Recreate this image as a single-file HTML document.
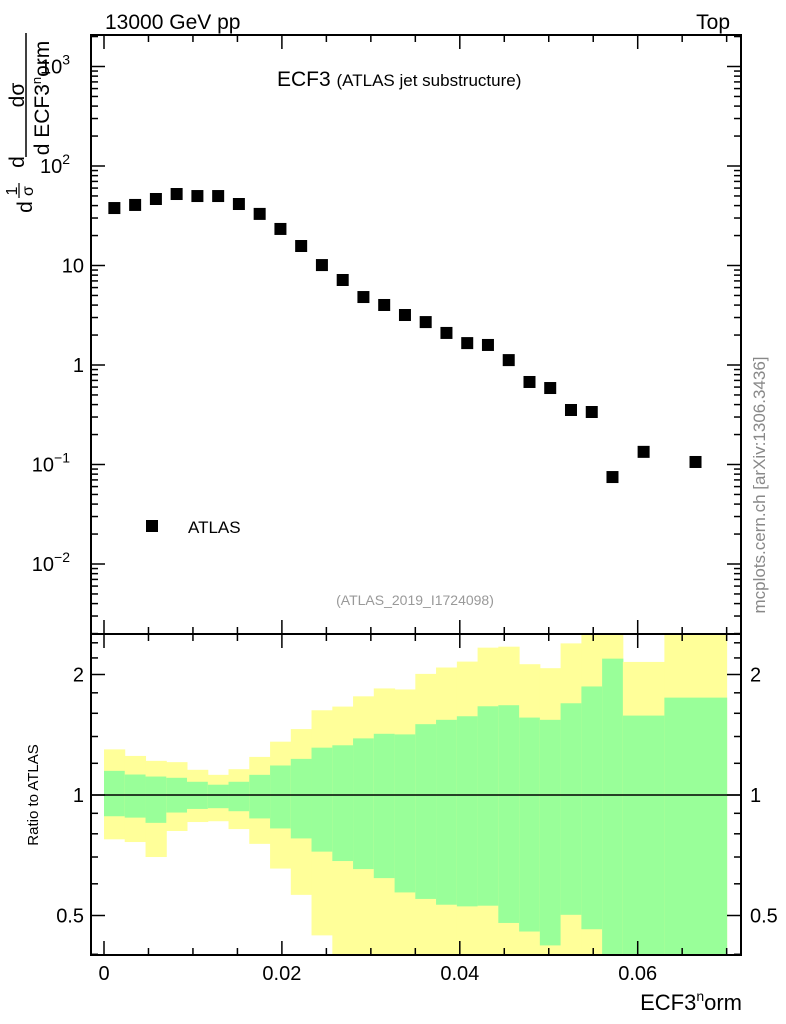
<!DOCTYPE html>
<html><head><meta charset="utf-8"><style>
body{margin:0;background:#fff;}
svg{display:block;font-family:"Liberation Sans",sans-serif;}
</style></head><body>
<svg id="c" width="786" height="1024" xmlns="http://www.w3.org/2000/svg"></svg>
<script>
// data
const binEdges=[0,0.00233,0.00467,0.007,0.00933,0.01167,0.014,0.01633,0.01867,0.021,0.02333,0.02567,0.028,0.03033,0.03267,0.035,0.03733,0.03967,0.042,0.04433,0.04667,0.049,0.05133,0.05367,0.056,0.05833,0.063,0.07];
const atlasValues=[37.8,40.6,46.6,52.3,49.9,49.9,41.5,33,23.3,15.7,10.1,7.15,4.82,4.01,3.18,2.7,2.1,1.66,1.59,1.12,0.675,0.587,0.353,0.337,0.0748,0.134,0.106];
const yellowUp=[1.30,1.252,1.217,1.208,1.156,1.123,1.16,1.245,1.359,1.461,1.628,1.663,1.764,1.846,1.835,2.007,2.082,2.154,2.334,2.347,2.122,2.074,2.392,3,3,2.15,3];
const greenUp=[1.149,1.125,1.112,1.104,1.079,1.061,1.079,1.123,1.185,1.231,1.313,1.331,1.385,1.422,1.417,1.503,1.541,1.573,1.666,1.676,1.561,1.541,1.695,1.867,2.191,1.579,1.751];
const greenLow=[0.885,0.878,0.852,0.904,0.923,0.927,0.911,0.874,0.825,0.779,0.722,0.684,0.653,0.620,0.571,0.550,0.532,0.527,0.529,0.479,0.456,0.421,0.502,0.462,0.3,0.3,0.3];
const yellowLow=[0.775,0.763,0.700,0.813,0.856,0.86,0.822,0.755,0.655,0.563,0.446,0.3,0.3,0.3,0.3,0.3,0.3,0.3,0.3,0.3,0.3,0.3,0.3,0.3,0.3,0.3,0.3];
const xTicks=[0,0.02,0.04,0.06];
const xTickLabels=["0","0.02","0.04","0.06"];

const NS="http://www.w3.org/2000/svg";
const svg=document.getElementById('c');
const L=91,R=741,T=35,MB=634,RB=955;
function X(v){return 104+v*8895;}
function Y(v){return 365-Math.log10(v)*99.5;}
function RY(r){const y=795-Math.log2(r)*120.5;return Math.max(MB,Math.min(RB,y));}
function el(tag,attrs,parent){const e=document.createElementNS(NS,tag);for(const k in attrs)e.setAttribute(k,attrs[k]);(parent||svg).appendChild(e);return e;}
function txt(s,attrs){const e=el('text',attrs);e.textContent=s;return e;}

// ratio bands
const bands=el('g',{});


for(let i=0;i<atlasValues.length;i++){
  const x0=X(binEdges[i]),x1=X(binEdges[i+1]);
  const yb=el('rect',{x:x0,y:RY(yellowUp[i]),width:x1-x0+0.5,height:RY(yellowLow[i])-RY(yellowUp[i]),fill:'#ffff99'},bands);
  
  
  const gb=el('rect',{x:x0,y:RY(greenUp[i]),width:x1-x0+0.5,height:RY(greenLow[i])-RY(greenUp[i]),fill:'#99ff99'},bands);
  
  
}
el('line',{x1:L,x2:R,y1:RY(1),y2:RY(1),stroke:'#000','stroke-width':1.5});

// markers
for(let i=0;i<atlasValues.length;i++){
  const c=(binEdges[i]+binEdges[i+1])/2;
  const m=el('rect',{x:X(c)-6,y:Y(atlasValues[i])-6,width:12,height:12,fill:'#000'});
  
  
}

// frames
el('rect',{x:L,y:T,width:R-L,height:MB-T,fill:'none',stroke:'#000','stroke-width':2});
el('rect',{x:L,y:MB,width:R-L,height:RB-MB,fill:'none',stroke:'#000','stroke-width':2});

// x ticks
for(let v=0;v<=0.0701;v+=0.005){
  const maj=Math.abs(v/0.02-Math.round(v/0.02))<1e-6;
  const len=maj?14:7, x=X(v);
  el('line',{x1:x,x2:x,y1:T,y2:T+len,stroke:'#000','stroke-width':1.5});
  el('line',{x1:x,x2:x,y1:MB,y2:MB-len,stroke:'#000','stroke-width':1.5});
  el('line',{x1:x,x2:x,y1:MB,y2:MB+len,stroke:'#000','stroke-width':1.5});
  el('line',{x1:x,x2:x,y1:RB,y2:RB-len,stroke:'#000','stroke-width':1.5});
}
xTicks.forEach((v,i)=>{const t=txt(xTickLabels[i],{x:X(v),y:980,'font-size':20,'text-anchor':'middle'});

});

// main y ticks
for(let d=-3;d<=3;d++){for(let k=1;k<=9;k++){const v=k*Math.pow(10,d);const y=Y(v);if(y<T||y>MB)continue;
 const len=k==1?14:7;
 el('line',{x1:L,x2:L+len,y1:y,y2:y,stroke:'#000','stroke-width':1.5});
 el('line',{x1:R,x2:R-len,y1:y,y2:y,stroke:'#000','stroke-width':1.5});}}
const ylab=[[1000,'10','3'],[100,'10','2'],[10,'10',''],[1,'1',''],[0.1,'10','−1'],[0.01,'10','−2']];
ylab.forEach(a=>{const t=el('text',{x:a[2]?70:84,y:Y(a[0])+7,'font-size':20,'text-anchor':'end'});t.textContent=a[1];
 
 
 if(a[2]){const s=el('tspan',{'font-size':14,dy:-9},t);s.textContent=a[2];}});

// ratio y ticks
[0.4,0.5,0.6,0.7,0.8,0.9,1,1.2,1.4,1.6,1.8,2,2.2,2.4].forEach(r=>{const y=RY(r);if(y<=MB||y>=RB)return;
 const maj=(r==0.5||r==1||r==2);const len=maj?14:7;
 el('line',{x1:L,x2:L+len,y1:y,y2:y,stroke:'#000','stroke-width':1.5});
 el('line',{x1:R,x2:R-len,y1:y,y2:y,stroke:'#000','stroke-width':1.5});});
[[0.5,'0.5'],[1,'1'],[2,'2']].forEach(a=>{
 const t1=txt(a[1],{x:84,y:RY(a[0])+7,'font-size':20,'text-anchor':'end'});
 
 
 const t2=txt(a[1],{x:750,y:RY(a[0])+7,'font-size':20});
 
 });
</script>
<svg width="786" height="1024" style="position:absolute;left:0;top:0;font-family:'Liberation Sans',sans-serif">
<text x="105" y="29" font-size="21">13000 GeV pp</text>
<text x="730" y="29" font-size="21" text-anchor="end">Top</text>
<text x="277" y="86" font-size="21">ECF3 <tspan font-size="17">(ATLAS jet substructure)</tspan></text>
<rect x="146" y="520" width="12" height="12" fill="#000"/>
<text x="188" y="533" font-size="17">ATLAS</text>
<text x="415" y="605" font-size="14" fill="#999" text-anchor="middle">(ATLAS_2019_I1724098)</text>
<text transform="translate(765,485) rotate(-90)" font-size="17" fill="#888" text-anchor="middle">mcplots.cern.ch [arXiv:1306.3436]</text>
<text transform="translate(38,795) rotate(-90)" font-size="15" text-anchor="middle">Ratio to ATLAS</text>
<g font-size="21">
<text transform="translate(24,95) rotate(-90)" text-anchor="middle">dσ</text>
<line x1="26" y1="33" x2="26" y2="157" stroke="#000" stroke-width="1.5"/>
<text transform="translate(49,98) rotate(-90)" text-anchor="middle">d ECF3<tspan font-size="13" dy="-8">n</tspan><tspan dy="8">orm</tspan></text>
<text transform="translate(24,162) rotate(-90)" text-anchor="middle">d</text>
<text transform="translate(32,207) rotate(-90)" text-anchor="middle">d</text>
<text transform="translate(17,191) rotate(-90)" font-size="16" text-anchor="middle">1</text>
<line x1="19" y1="183" x2="19" y2="198" stroke="#000" stroke-width="1.2"/>
<text transform="translate(33,191) rotate(-90)" font-size="16" text-anchor="middle">σ</text>
</g>
<text x="742" y="1010" font-size="22" text-anchor="end">ECF3<tspan font-size="14" dy="-9">n</tspan><tspan dy="9">orm</tspan></text>
</svg>
</body></html>
